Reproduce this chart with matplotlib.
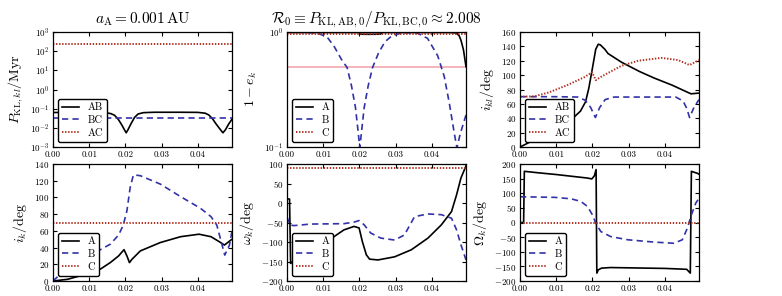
import matplotlib
matplotlib.use('Agg')
import matplotlib.pyplot as plt
from matplotlib.ticker import FormatStrFormatter, MultipleLocator, NullLocator, LogLocator

plt.rcParams['mathtext.fontset'] = 'cm'
plt.rcParams['font.family'] = 'serif'
plt.rcParams['font.serif'] = ['cmr10']
plt.rcParams['axes.formatter.use_mathtext'] = True
plt.rcParams['axes.unicode_minus'] = True
plt.rcParams['xtick.direction'] = 'in'
plt.rcParams['ytick.direction'] = 'in'
plt.rcParams['xtick.top'] = True
plt.rcParams['ytick.right'] = True
plt.rcParams['xtick.labelsize'] = 6.5
plt.rcParams['ytick.labelsize'] = 6.5
plt.rcParams['xtick.major.size'] = 3
plt.rcParams['ytick.major.size'] = 3
plt.rcParams['xtick.major.pad'] = 2.5
plt.rcParams['ytick.major.pad'] = 2.5
plt.rcParams['lines.scale_dashes'] = False
plt.rcParams['lines.dashed_pattern'] = [4.5, 3.0]
plt.rcParams['lines.dotted_pattern'] = [1.0, 1.2]

BLACK = 'black'
BLUE = '#3232a8'
RED = '#b03020'
X_MAX = 0.0494

# --- top left: P_KL,kl (log) ---
pkl_ab_t = [0.0, 0.005, 0.010, 0.014, 0.016, 0.017, 0.018, 0.019, 0.0197, 0.0202, 0.0207, 0.0215,
            0.0225, 0.0235, 0.025, 0.028, 0.035, 0.040, 0.042, 0.043, 0.044, 0.045, 0.046, 0.0469,
            0.0476, 0.0485, 0.0494]
pkl_ab = [0.063, 0.064, 0.065, 0.064, 0.055, 0.045, 0.028, 0.014, 0.008, 0.0055, 0.008, 0.016,
          0.035, 0.053, 0.062, 0.065, 0.065, 0.064, 0.058, 0.047, 0.030, 0.016, 0.009, 0.0055,
          0.008, 0.016, 0.028]
pkl_bc_t = [0.0, 0.0494]
pkl_bc = [0.031, 0.031]
pkl_ac_t = [0.0, 0.0494]
pkl_ac = [250, 250]

# --- top middle: 1 - e_k (log) ---
e_a_t = [0.0, 0.0198, 0.0203, 0.022, 0.0245, 0.0258, 0.0263, 0.045, 0.0467, 0.0475, 0.048, 0.0487, 0.0494]
e_a = [0.99, 0.99, 0.957, 0.955, 0.956, 0.96, 0.99, 0.99, 0.98, 0.93, 0.85, 0.70, 0.50]
e_b_t = [0.0, 0.004, 0.007, 0.009, 0.011, 0.013, 0.015, 0.0166, 0.0178, 0.0189, 0.0197, 0.0201,
         0.0205, 0.0213, 0.0224, 0.0236, 0.0252, 0.027, 0.029, 0.032, 0.0345, 0.036, 0.0388,
         0.0416, 0.0434, 0.0448, 0.0462, 0.0469, 0.0478, 0.0494]
e_b = [1.0, 0.995, 0.985, 0.96, 0.91, 0.75, 0.58, 0.49, 0.34, 0.22, 0.13, 0.098,
       0.13, 0.22, 0.34, 0.49, 0.65, 0.82, 0.93, 0.985, 0.985, 0.975, 0.88,
       0.62, 0.41, 0.24, 0.13, 0.098, 0.13, 0.19]
e_c_t = [0.0, 0.0494]
e_c = [0.97, 0.97]
e_ref = 0.5

# --- top right: i_kl ---
ikl_ab_t = [0.0, 0.002, 0.005, 0.008, 0.011, 0.013, 0.015, 0.0167, 0.0181, 0.019, 0.020, 0.0209,
            0.0216, 0.0222, 0.0234, 0.0243, 0.028, 0.033, 0.037, 0.042, 0.0463, 0.0472, 0.0494]
ikl_ab = [0, 5, 13, 21, 30, 37, 42, 50, 63, 82, 110, 136,
          143, 142, 136, 130, 118, 105, 96, 86, 76, 74, 75]
ikl_bc_t = [0.0, 0.010, 0.016, 0.018, 0.0195, 0.0208, 0.022, 0.0235, 0.026, 0.043, 0.045, 0.046,
            0.0468, 0.048, 0.0494]
ikl_bc = [70, 70, 69.5, 65, 55, 41, 55, 66, 69.5, 69.5, 64, 54, 41, 55, 66]
ikl_ac_t = [0.0, 0.004, 0.008, 0.013, 0.0177, 0.0199, 0.0209, 0.0225, 0.0243, 0.028, 0.0326,
            0.039, 0.0436, 0.0468, 0.0494]
ikl_ac = [70, 70.5, 76, 86, 97, 104, 93, 98, 103, 113, 120, 124, 121, 114, 121]

# --- bottom left: i_k ---
ik_a_t = [0.0, 0.004, 0.009, 0.013, 0.0158, 0.0181, 0.0196, 0.0204, 0.0211, 0.0218, 0.0241,
          0.0296, 0.0352, 0.0403, 0.0436, 0.0459, 0.0473, 0.0494]
ik_a = [0, 2, 8, 14, 22, 30, 37.5, 30, 22, 26, 36, 46, 53, 56, 53, 47, 43, 50]
ik_b_t = [0.0, 0.002, 0.005, 0.008, 0.0112, 0.0158, 0.0181, 0.0194, 0.0204, 0.0213, 0.0222,
          0.0241, 0.0296, 0.0352, 0.0407, 0.0436, 0.0452, 0.0463, 0.0474, 0.0487, 0.0494]
ik_b = [0, 8, 17, 25, 33, 44, 55, 67, 84, 112, 127, 126, 116, 101, 87, 77, 67, 49, 31, 43, 60]
ik_c_t = [0.0, 0.0494]
ik_c = [70, 70]

# --- bottom middle: omega_k ---
om_a_t = [0.0, 0.0007, 0.0010, 0.004, 0.008, 0.0116, 0.0157, 0.0185, 0.0199, 0.0208, 0.0219,
          0.0228, 0.0251, 0.0297, 0.0343, 0.0389, 0.0426, 0.0454, 0.0468, 0.048, 0.0494]
om_a = [11, 10, -155, -130, -110, -95, -69, -60, -64, -99, -133,
        -144, -146, -138, -120, -90, -56, -22, 21, 64, 95]
om_b_t = [0.0, 0.0007, 0.0019, 0.0065, 0.0157, 0.0185, 0.0199, 0.0213, 0.0231, 0.0259, 0.0297,
          0.0324, 0.0352, 0.0389, 0.0426, 0.0454, 0.0468, 0.048, 0.0494]
om_b = [-35, -56, -58, -54, -53, -49, -45, -56, -77, -90, -95, -82, -35, -28, -30, -39, -69, -107, -146]
om_c_t = [0.0, 0.0494]
om_c = [90, 90]

# --- bottom right: Omega_k ---
Om_a_t = [0.0, 0.0010, 0.0012, 0.005, 0.010, 0.015, 0.0186, 0.0198, 0.0205, 0.0210, 0.0212,
          0.0216, 0.0225, 0.025, 0.030, 0.040, 0.046, 0.0470, 0.0473, 0.048, 0.049, 0.0494]
Om_a = [0, 0, 175, 170, 164, 157, 152, 149, 159, 181, -173,
        -162, -156, -154, -155, -157, -160, -173, 175, 172, 168, 165]
Om_b_t = [0.0, 0.0095, 0.0141, 0.0168, 0.0186, 0.020, 0.0209, 0.0223, 0.025, 0.0297, 0.037,
          0.0425, 0.0448, 0.0462, 0.0473, 0.0485, 0.0494]
Om_b = [88, 86, 81, 72, 55, 26, -2, -31, -48, -59, -67, -71, -59, -19, 26, 66, 83]
Om_c_t = [0.0, 0.0494]
Om_c = [0, 0]

fig = plt.figure(figsize=(7.82, 2.96), dpi=100)
lefts = [53 / 782, 287 / 782, 520 / 782]
width = 179 / 782
top_b, top_h = 149 / 296, 115 / 296
bot_b, bot_h = 15 / 296, 117 / 296

axes = [[fig.add_axes([l, top_b, width, top_h]) for l in lefts],
        [fig.add_axes([l, bot_b, width, bot_h]) for l in lefts]]


def style(ax, ylabel):
    ax.set_xlim(0, X_MAX)
    ax.xaxis.set_major_locator(MultipleLocator(0.01))
    ax.xaxis.set_major_formatter(FormatStrFormatter('%.2f'))
    ax.set_ylabel(ylabel, fontsize=10)
    ax.legend(loc='lower left', fontsize=7.5, handlelength=1.6, fancybox=True,
              framealpha=1, edgecolor='black', borderpad=0.4, labelspacing=0.3)
    for s in ax.spines.values():
        s.set_linewidth(0.9)


lw = 1.2

ax = axes[0][0]
ax.plot(pkl_ab_t, pkl_ab, color=BLACK, lw=lw, label='AB')
ax.plot(pkl_bc_t, pkl_bc, color=BLUE, lw=lw, ls='--', label='BC')
ax.plot(pkl_ac_t, pkl_ac, color=RED, lw=1.4, ls=':', label='AC')
ax.set_yscale('log')
ax.set_ylim(1e-3, 1e3)
ax.yaxis.set_major_locator(LogLocator(base=10, numticks=10))
ax.yaxis.set_minor_locator(NullLocator())
ax.set_title(r'$a_\mathrm{A}=0.001\,\mathrm{AU}$', fontsize=11)
style(ax, r'$P_{\mathrm{KL},kl}/\mathrm{Myr}$')

ax = axes[0][1]
ax.axhline(e_ref, color='#f0a0a8', lw=1.1)
ax.plot(e_a_t, e_a, color=BLACK, lw=lw, label='A')
ax.plot(e_b_t, e_b, color=BLUE, lw=lw, ls='--', label='B')
ax.plot(e_c_t, e_c, color=RED, lw=1.4, ls=':', label='C')
ax.set_yscale('log')
ax.set_ylim(0.1, 1.0)
ax.yaxis.set_minor_locator(NullLocator())
ax.set_title(r'$\mathcal{R}_0\equiv P_{\mathrm{KL,AB,0}}/P_{\mathrm{KL,BC,0}}\approx 2.008$', fontsize=11)
style(ax, r'$1-e_k$')

ax = axes[0][2]
ax.plot(ikl_ab_t, ikl_ab, color=BLACK, lw=lw, label='AB')
ax.plot(ikl_bc_t, ikl_bc, color=BLUE, lw=lw, ls='--', label='BC')
ax.plot(ikl_ac_t, ikl_ac, color=RED, lw=1.4, ls=':', label='AC')
ax.set_ylim(0, 160)
ax.yaxis.set_major_locator(MultipleLocator(20))
style(ax, r'$i_{kl}/\mathrm{deg}$')

ax = axes[1][0]
ax.plot(ik_a_t, ik_a, color=BLACK, lw=lw, label='A')
ax.plot(ik_b_t, ik_b, color=BLUE, lw=lw, ls='--', label='B')
ax.plot(ik_c_t, ik_c, color=RED, lw=1.4, ls=':', label='C')
ax.set_ylim(0, 140)
ax.yaxis.set_major_locator(MultipleLocator(20))
style(ax, r'$i_k/\mathrm{deg}$')

ax = axes[1][1]
ax.plot(om_a_t, om_a, color=BLACK, lw=lw, label='A')
ax.plot(om_b_t, om_b, color=BLUE, lw=lw, ls='--', label='B')
ax.plot(om_c_t, om_c, color=RED, lw=1.4, ls=':', label='C')
ax.set_ylim(-200, 100)
ax.yaxis.set_major_locator(MultipleLocator(50))
style(ax, r'$\omega_k/\mathrm{deg}$')

ax = axes[1][2]
ax.plot(Om_a_t, Om_a, color=BLACK, lw=lw, label='A')
ax.plot(Om_b_t, Om_b, color=BLUE, lw=lw, ls='--', label='B')
ax.plot(Om_c_t, Om_c, color=RED, lw=1.4, ls=':', label='C')
ax.set_ylim(-200, 200)
ax.yaxis.set_major_locator(MultipleLocator(50))
style(ax, r'$\Omega_k/\mathrm{deg}$')

fig.savefig('out.png', dpi=100)
